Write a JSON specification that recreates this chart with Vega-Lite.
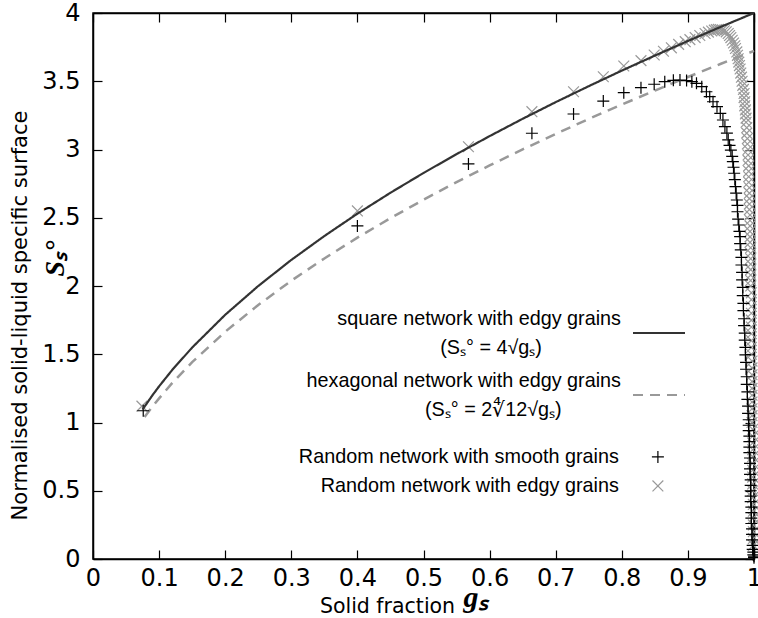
{
  "$schema": "https://vega.github.io/schema/vega-lite/v6.json",
  "width": 661,
  "height": 546,
  "autosize": {"type": "none"},
  "padding": {"left": 93, "top": 13, "right": 4, "bottom": 59},
  "background": "white",
  "datasets": {
    "lines": [
      {"s": "sq", "x": 0.075, "y": 1.095}, {"s": "sq", "x": 0.09, "y": 1.2}, {"s": "sq", "x": 0.1, "y": 1.265},
      {"s": "sq", "x": 0.12, "y": 1.386}, {"s": "sq", "x": 0.15, "y": 1.549}, {"s": "sq", "x": 0.2, "y": 1.789},
      {"s": "sq", "x": 0.25, "y": 2.0}, {"s": "sq", "x": 0.3, "y": 2.191}, {"s": "sq", "x": 0.35, "y": 2.366},
      {"s": "sq", "x": 0.4, "y": 2.53}, {"s": "sq", "x": 0.45, "y": 2.683}, {"s": "sq", "x": 0.5, "y": 2.828},
      {"s": "sq", "x": 0.55, "y": 2.966}, {"s": "sq", "x": 0.6, "y": 3.098}, {"s": "sq", "x": 0.65, "y": 3.225},
      {"s": "sq", "x": 0.7, "y": 3.347}, {"s": "sq", "x": 0.75, "y": 3.464}, {"s": "sq", "x": 0.8, "y": 3.578},
      {"s": "sq", "x": 0.85, "y": 3.688}, {"s": "sq", "x": 0.9, "y": 3.795}, {"s": "sq", "x": 0.95, "y": 3.899},
      {"s": "sq", "x": 1.0, "y": 4.0},
      {"s": "hex", "x": 0.078, "y": 1.04}, {"s": "hex", "x": 0.09, "y": 1.117}, {"s": "hex", "x": 0.1, "y": 1.177},
      {"s": "hex", "x": 0.12, "y": 1.29}, {"s": "hex", "x": 0.15, "y": 1.442}, {"s": "hex", "x": 0.2, "y": 1.665},
      {"s": "hex", "x": 0.25, "y": 1.861}, {"s": "hex", "x": 0.3, "y": 2.039}, {"s": "hex", "x": 0.35, "y": 2.202},
      {"s": "hex", "x": 0.4, "y": 2.354}, {"s": "hex", "x": 0.45, "y": 2.497}, {"s": "hex", "x": 0.5, "y": 2.632},
      {"s": "hex", "x": 0.55, "y": 2.761}, {"s": "hex", "x": 0.6, "y": 2.883}, {"s": "hex", "x": 0.65, "y": 3.001},
      {"s": "hex", "x": 0.7, "y": 3.114}, {"s": "hex", "x": 0.75, "y": 3.224}, {"s": "hex", "x": 0.8, "y": 3.329},
      {"s": "hex", "x": 0.85, "y": 3.432}, {"s": "hex", "x": 0.9, "y": 3.531}, {"s": "hex", "x": 0.95, "y": 3.628},
      {"s": "hex", "x": 1.0, "y": 3.722}
    ],
    "pts": [
      {"s": "sm", "x": 0.076, "y": 1.086}, {"s": "sm", "x": 0.4, "y": 2.44}, {"s": "sm", "x": 0.568, "y": 2.894},
      {"s": "sm", "x": 0.664, "y": 3.119}, {"s": "sm", "x": 0.727, "y": 3.26}, {"s": "sm", "x": 0.772, "y": 3.355},
      {"s": "sm", "x": 0.803, "y": 3.416}, {"s": "sm", "x": 0.829, "y": 3.453}, {"s": "sm", "x": 0.849, "y": 3.478},
      {"s": "sm", "x": 0.865, "y": 3.497}, {"s": "sm", "x": 0.878, "y": 3.507}, {"s": "sm", "x": 0.888, "y": 3.509},
      {"s": "sm", "x": 0.898, "y": 3.505}, {"s": "sm", "x": 0.906, "y": 3.497}, {"s": "sm", "x": 0.913, "y": 3.485},
      {"s": "sm", "x": 0.921, "y": 3.46}, {"s": "sm", "x": 0.928, "y": 3.423}, {"s": "sm", "x": 0.933, "y": 3.387},
      {"s": "sm", "x": 0.938, "y": 3.35}, {"s": "sm", "x": 0.944, "y": 3.314}, {"s": "sm", "x": 0.949, "y": 3.265},
      {"s": "sm", "x": 0.953, "y": 3.216}, {"s": "sm", "x": 0.956, "y": 3.167}, {"s": "sm", "x": 0.959, "y": 3.12},
      {"s": "sm", "x": 0.961, "y": 3.07}, {"s": "sm", "x": 0.963, "y": 3.03}, {"s": "sm", "x": 0.965, "y": 2.996},
      {"s": "sm", "x": 0.967, "y": 2.95}, {"s": "sm", "x": 0.968, "y": 2.911}, {"s": "sm", "x": 0.969, "y": 2.87},
      {"s": "sm", "x": 0.97, "y": 2.826}, {"s": "sm", "x": 0.971, "y": 2.78}, {"s": "sm", "x": 0.972, "y": 2.728},
      {"s": "sm", "x": 0.973, "y": 2.68}, {"s": "sm", "x": 0.974, "y": 2.63}, {"s": "sm", "x": 0.975, "y": 2.59},
      {"s": "sm", "x": 0.975, "y": 2.544}, {"s": "sm", "x": 0.976, "y": 2.49}, {"s": "sm", "x": 0.977, "y": 2.447},
      {"s": "sm", "x": 0.978, "y": 2.4}, {"s": "sm", "x": 0.979, "y": 2.361}, {"s": "sm", "x": 0.979, "y": 2.31},
      {"s": "sm", "x": 0.98, "y": 2.264}, {"s": "sm", "x": 0.981, "y": 2.21}, {"s": "sm", "x": 0.981, "y": 2.154},
      {"s": "sm", "x": 0.982, "y": 2.1}, {"s": "sm", "x": 0.982, "y": 2.045}, {"s": "sm", "x": 0.983, "y": 1.99},
      {"s": "sm", "x": 0.983, "y": 1.93}, {"s": "sm", "x": 0.984, "y": 1.873}, {"s": "sm", "x": 0.984, "y": 1.82},
      {"s": "sm", "x": 0.985, "y": 1.76}, {"s": "sm", "x": 0.985, "y": 1.71}, {"s": "sm", "x": 0.986, "y": 1.655},
      {"s": "sm", "x": 0.986, "y": 1.604}, {"s": "sm", "x": 0.987, "y": 1.55}, {"s": "sm", "x": 0.987, "y": 1.495},
      {"s": "sm", "x": 0.988, "y": 1.44}, {"s": "sm", "x": 0.988, "y": 1.39}, {"s": "sm", "x": 0.989, "y": 1.335},
      {"s": "sm", "x": 0.989, "y": 1.28}, {"s": "sm", "x": 0.99, "y": 1.225}, {"s": "sm", "x": 0.99, "y": 1.17},
      {"s": "sm", "x": 0.991, "y": 1.12}, {"s": "sm", "x": 0.991, "y": 1.067}, {"s": "sm", "x": 0.992, "y": 1.02},
      {"s": "sm", "x": 0.992, "y": 0.98}, {"s": "sm", "x": 0.992, "y": 0.94}, {"s": "sm", "x": 0.993, "y": 0.9},
      {"s": "sm", "x": 0.993, "y": 0.86}, {"s": "sm", "x": 0.993, "y": 0.82}, {"s": "sm", "x": 0.993, "y": 0.78},
      {"s": "sm", "x": 0.994, "y": 0.74}, {"s": "sm", "x": 0.994, "y": 0.7}, {"s": "sm", "x": 0.994, "y": 0.66},
      {"s": "sm", "x": 0.994, "y": 0.62}, {"s": "sm", "x": 0.995, "y": 0.58}, {"s": "sm", "x": 0.995, "y": 0.54},
      {"s": "sm", "x": 0.995, "y": 0.5}, {"s": "sm", "x": 0.995, "y": 0.46}, {"s": "sm", "x": 0.995, "y": 0.42},
      {"s": "sm", "x": 0.996, "y": 0.38}, {"s": "sm", "x": 0.996, "y": 0.34}, {"s": "sm", "x": 0.996, "y": 0.3},
      {"s": "sm", "x": 0.996, "y": 0.26}, {"s": "sm", "x": 0.997, "y": 0.22}, {"s": "sm", "x": 0.997, "y": 0.18},
      {"s": "sm", "x": 0.997, "y": 0.14}, {"s": "sm", "x": 0.998, "y": 0.1}, {"s": "sm", "x": 0.998, "y": 0.07},
      {"s": "sm", "x": 0.999, "y": 0.05}, {"s": "sm", "x": 0.999, "y": 0.03}, {"s": "sm", "x": 1.0, "y": 0.02},
      {"s": "sm", "x": 1.0, "y": 0.01},
      {"s": "ed", "x": 0.074, "y": 1.12}, {"s": "ed", "x": 0.4, "y": 2.55}, {"s": "ed", "x": 0.568, "y": 3.02},
      {"s": "ed", "x": 0.664, "y": 3.277}, {"s": "ed", "x": 0.727, "y": 3.423}, {"s": "ed", "x": 0.772, "y": 3.533},
      {"s": "ed", "x": 0.803, "y": 3.612}, {"s": "ed", "x": 0.829, "y": 3.651}, {"s": "ed", "x": 0.849, "y": 3.692},
      {"s": "ed", "x": 0.863, "y": 3.72}, {"s": "ed", "x": 0.875, "y": 3.745}, {"s": "ed", "x": 0.886, "y": 3.77},
      {"s": "ed", "x": 0.896, "y": 3.79}, {"s": "ed", "x": 0.903, "y": 3.805}, {"s": "ed", "x": 0.911, "y": 3.82},
      {"s": "ed", "x": 0.918, "y": 3.835}, {"s": "ed", "x": 0.926, "y": 3.85}, {"s": "ed", "x": 0.931, "y": 3.86},
      {"s": "ed", "x": 0.936, "y": 3.868}, {"s": "ed", "x": 0.94, "y": 3.874}, {"s": "ed", "x": 0.943, "y": 3.878},
      {"s": "ed", "x": 0.946, "y": 3.88}, {"s": "ed", "x": 0.949, "y": 3.879}, {"s": "ed", "x": 0.952, "y": 3.876},
      {"s": "ed", "x": 0.955, "y": 3.87}, {"s": "ed", "x": 0.958, "y": 3.862}, {"s": "ed", "x": 0.961, "y": 3.85},
      {"s": "ed", "x": 0.963, "y": 3.835}, {"s": "ed", "x": 0.965, "y": 3.82}, {"s": "ed", "x": 0.967, "y": 3.8},
      {"s": "ed", "x": 0.969, "y": 3.78}, {"s": "ed", "x": 0.971, "y": 3.76}, {"s": "ed", "x": 0.972, "y": 3.74},
      {"s": "ed", "x": 0.974, "y": 3.715}, {"s": "ed", "x": 0.975, "y": 3.69}, {"s": "ed", "x": 0.976, "y": 3.665},
      {"s": "ed", "x": 0.977, "y": 3.64}, {"s": "ed", "x": 0.978, "y": 3.615}, {"s": "ed", "x": 0.979, "y": 3.59},
      {"s": "ed", "x": 0.98, "y": 3.56}, {"s": "ed", "x": 0.981, "y": 3.53}, {"s": "ed", "x": 0.982, "y": 3.5},
      {"s": "ed", "x": 0.983, "y": 3.47}, {"s": "ed", "x": 0.984, "y": 3.44}, {"s": "ed", "x": 0.985, "y": 3.41},
      {"s": "ed", "x": 0.985, "y": 3.38}, {"s": "ed", "x": 0.986, "y": 3.35}, {"s": "ed", "x": 0.986, "y": 3.32},
      {"s": "ed", "x": 0.987, "y": 3.29}, {"s": "ed", "x": 0.987, "y": 3.26}, {"s": "ed", "x": 0.988, "y": 3.23},
      {"s": "ed", "x": 0.988, "y": 3.2}, {"s": "ed", "x": 0.989, "y": 3.16}, {"s": "ed", "x": 0.989, "y": 3.12},
      {"s": "ed", "x": 0.99, "y": 3.08}, {"s": "ed", "x": 0.99, "y": 3.04}, {"s": "ed", "x": 0.991, "y": 3.0},
      {"s": "ed", "x": 0.991, "y": 2.96}, {"s": "ed", "x": 0.991, "y": 2.92}, {"s": "ed", "x": 0.992, "y": 2.88},
      {"s": "ed", "x": 0.992, "y": 2.84}, {"s": "ed", "x": 0.992, "y": 2.8}, {"s": "ed", "x": 0.992, "y": 2.76},
      {"s": "ed", "x": 0.993, "y": 2.72}, {"s": "ed", "x": 0.993, "y": 2.68}, {"s": "ed", "x": 0.993, "y": 2.64},
      {"s": "ed", "x": 0.993, "y": 2.6}, {"s": "ed", "x": 0.993, "y": 2.56}, {"s": "ed", "x": 0.994, "y": 2.52},
      {"s": "ed", "x": 0.994, "y": 2.48}, {"s": "ed", "x": 0.994, "y": 2.44}, {"s": "ed", "x": 0.994, "y": 2.4},
      {"s": "ed", "x": 0.994, "y": 2.36}, {"s": "ed", "x": 0.994, "y": 2.32}, {"s": "ed", "x": 0.995, "y": 2.28},
      {"s": "ed", "x": 0.995, "y": 2.24}, {"s": "ed", "x": 0.995, "y": 2.2}, {"s": "ed", "x": 0.995, "y": 2.16},
      {"s": "ed", "x": 0.995, "y": 2.12}, {"s": "ed", "x": 0.995, "y": 2.08}, {"s": "ed", "x": 0.995, "y": 2.04},
      {"s": "ed", "x": 0.995, "y": 2.0}, {"s": "ed", "x": 0.996, "y": 1.95}, {"s": "ed", "x": 0.996, "y": 1.9},
      {"s": "ed", "x": 0.996, "y": 1.85}, {"s": "ed", "x": 0.996, "y": 1.8}, {"s": "ed", "x": 0.996, "y": 1.75},
      {"s": "ed", "x": 0.996, "y": 1.7}, {"s": "ed", "x": 0.996, "y": 1.65}, {"s": "ed", "x": 0.996, "y": 1.6},
      {"s": "ed", "x": 0.996, "y": 1.55}, {"s": "ed", "x": 0.996, "y": 1.5}, {"s": "ed", "x": 0.997, "y": 1.45},
      {"s": "ed", "x": 0.997, "y": 1.4}, {"s": "ed", "x": 0.997, "y": 1.35}, {"s": "ed", "x": 0.997, "y": 1.3},
      {"s": "ed", "x": 0.997, "y": 1.25}, {"s": "ed", "x": 0.997, "y": 1.2}, {"s": "ed", "x": 0.997, "y": 1.15},
      {"s": "ed", "x": 0.997, "y": 1.1}, {"s": "ed", "x": 0.997, "y": 1.05}, {"s": "ed", "x": 0.997, "y": 1.0},
      {"s": "ed", "x": 0.998, "y": 0.95}, {"s": "ed", "x": 0.998, "y": 0.9}, {"s": "ed", "x": 0.998, "y": 0.85},
      {"s": "ed", "x": 0.998, "y": 0.8}, {"s": "ed", "x": 0.998, "y": 0.75}, {"s": "ed", "x": 0.998, "y": 0.7},
      {"s": "ed", "x": 0.998, "y": 0.65}, {"s": "ed", "x": 0.998, "y": 0.6}, {"s": "ed", "x": 0.998, "y": 0.55},
      {"s": "ed", "x": 0.998, "y": 0.5}, {"s": "ed", "x": 0.998, "y": 0.45}, {"s": "ed", "x": 0.999, "y": 0.4},
      {"s": "ed", "x": 0.999, "y": 0.35}, {"s": "ed", "x": 0.999, "y": 0.3}, {"s": "ed", "x": 0.999, "y": 0.25},
      {"s": "ed", "x": 0.999, "y": 0.2}, {"s": "ed", "x": 0.999, "y": 0.15}, {"s": "ed", "x": 0.999, "y": 0.1}
    ]
  },
  "layer": [
    {
      "data": {"name": "pts"},
      "transform": [{"filter": "datum.s == 'ed'"}],
      "mark": {"type": "point", "filled": false, "size": 144, "strokeWidth": 1.2, "opacity": 1},
      "encoding": {
        "x": {"field": "x", "type": "quantitative", "scale": {"domain": [0, 1], "nice": false, "zero": false},
          "axis": {"orient": "bottom", "values": [0, 0.1, 0.2, 0.3, 0.4, 0.5, 0.6, 0.7, 0.8, 0.9, 1], "format": "~g",
            "tickSize": -9, "labelPadding": 16, "labelFlush": false, "labelOverlap": false,
            "title": "Solid fraction", "titleFont": "DejaVu Sans", "titleFontSize": 20.5,
            "titleX": 294, "titleY": 53, "titleBaseline": "alphabetic", "titleAlign": "center"}},
        "y": {"field": "y", "type": "quantitative", "scale": {"domain": [0, 4], "nice": false},
          "axis": {"orient": "left", "values": [0, 0.5, 1, 1.5, 2, 2.5, 3, 3.5, 4], "format": "~g",
            "tickSize": -9, "labelPadding": 22, "labelFlush": false, "labelOverlap": false,
            "title": "Normalised solid-liquid specific surface", "titleFont": "DejaVu Sans", "titleFontSize": 21,
            "titleAngle": 270, "titleX": -73, "titleY": 302, "titleAlign": "center", "titleBaseline": "middle"}},
        "color": {"field": "s", "type": "nominal",
          "scale": {"domain": ["sm", "ed"], "range": ["#000000", "#999999"]},
          "legend": {"orient": "none", "legendX": 555, "legendY": 434, "title": null, "symbolSize": 144,
            "symbolStrokeWidth": 1.2, "labelAlign": "right", "labelOffset": -49, "rowPadding": 8,
            "labelExpr": "datum.value == 'sm' ? 'Random network with smooth grains' : 'Random network with edgy grains'"}},
        "shape": {"field": "s", "type": "nominal",
          "scale": {"domain": ["sm", "ed"], "range": ["M-1,0H1M0,-1V1", "M-0.9,-0.9L0.9,0.9M-0.9,0.9L0.9,-0.9"]},
          "legend": {"orient": "none", "legendX": 555, "legendY": 434, "title": null, "symbolSize": 144,
            "symbolStrokeWidth": 1.2, "labelAlign": "right", "labelOffset": -49, "rowPadding": 8,
            "labelExpr": "datum.value == 'sm' ? 'Random network with smooth grains' : 'Random network with edgy grains'"}}
      }
    },
    {
      "data": {"name": "lines"},
      "transform": [{"filter": "datum.s == 'hex'"}],
      "mark": {"type": "line", "strokeWidth": 2.5},
      "encoding": {
        "x": {"field": "x", "type": "quantitative",
          "axis": {"orient": "top", "values": [0, 0.1, 0.2, 0.3, 0.4, 0.5, 0.6, 0.7, 0.8, 0.9, 1], "tickSize": -9,
            "labels": false, "title": null}},
        "y": {"field": "y", "type": "quantitative",
          "axis": {"orient": "right", "values": [0, 0.5, 1, 1.5, 2, 2.5, 3, 3.5, 4], "tickSize": -9,
            "labels": false, "title": null}},
        "stroke": {"field": "s", "type": "nominal",
          "scale": {"domain": ["sq", "hex"], "range": ["#333333", "#999999"]},
          "legend": {"orient": "none", "legendX": 539, "legendY": 293, "title": null, "symbolSize": 2704,
            "symbolStrokeWidth": 2, "labelAlign": "right", "labelOffset": -65, "rowPadding": 10,
            "encode": {"labels": {"update": {"lineHeight": {"value": 29}, "dy": {"value": -14.5}}}},
            "labelExpr": "datum.value == 'sq' ? ['square network with edgy grains', '(Sₛ° = 4√gₛ)\u2003\u2003\u2003\u2003\u200b'] : ['hexagonal network with edgy grains', '(Sₛ° = 2∜12√gₛ)\u2003\u2003\u2003\u200b']"}},
        "strokeDash": {"field": "s", "type": "nominal",
          "scale": {"domain": ["sq", "hex"], "range": [[1, 0], [10, 7]]},
          "legend": {"orient": "none", "legendX": 539, "legendY": 293, "title": null, "symbolSize": 2704,
            "symbolStrokeWidth": 2, "labelAlign": "right", "labelOffset": -65, "rowPadding": 10,
            "encode": {"labels": {"update": {"lineHeight": {"value": 29}, "dy": {"value": -14.5}}}},
            "labelExpr": "datum.value == 'sq' ? ['square network with edgy grains', '(Sₛ° = 4√gₛ)\u2003\u2003\u2003\u2003\u200b'] : ['hexagonal network with edgy grains', '(Sₛ° = 2∜12√gₛ)\u2003\u2003\u2003\u200b']"}}
      }
    },
    {
      "data": {"name": "pts"},
      "transform": [{"filter": "datum.s == 'sm'"}],
      "mark": {"type": "point", "filled": false, "size": 144, "strokeWidth": 1.2, "opacity": 1},
      "encoding": {
        "x": {"field": "x", "type": "quantitative",
          "axis": {"orient": "bottom", "ticks": false, "labels": false, "domain": false, "title": "gₛ",
            "titleFont": "Liberation Serif", "titleFontStyle": "italic", "titleFontWeight": "bold", "titleFontSize": 30,
            "titleX": 382, "titleY": 47, "titleBaseline": "alphabetic", "titleAlign": "center"}},
        "y": {"field": "y", "type": "quantitative",
          "axis": {"orient": "left", "ticks": false, "labels": false, "domain": false, "title": "Sₛ°",
            "titleFont": "Liberation Serif", "titleFontStyle": "italic", "titleFontWeight": "bold", "titleFontSize": 28,
            "titleAngle": 270, "titleX": -38, "titleY": 245, "titleAlign": "center", "titleBaseline": "middle"}},
        "color": {"field": "s", "type": "nominal"},
        "shape": {"field": "s", "type": "nominal"}
      }
    },
    {
      "data": {"name": "lines"},
      "transform": [{"filter": "datum.s == 'sq'"}],
      "mark": {"type": "line", "strokeWidth": 2.2},
      "encoding": {
        "x": {"field": "x", "type": "quantitative", "axis": null},
        "y": {"field": "y", "type": "quantitative", "axis": null},
        "stroke": {"field": "s", "type": "nominal"},
        "strokeDash": {"field": "s", "type": "nominal"}
      }
    }
  ],
  "resolve": {"axis": {"x": "independent", "y": "independent"}},
  "config": {
    "view": {"stroke": "black", "strokeWidth": 1.5},
    "axis": {"labelFont": "DejaVu Sans", "labelFontSize": 24, "labelColor": "black", "domainColor": "black",
      "domainWidth": 1.5, "tickColor": "black", "tickWidth": 1.2, "grid": false, "titleColor": "black",
      "titleFontWeight": "normal"},
    "legend": {"labelFont": "Liberation Sans", "labelFontSize": 19.8, "labelColor": "black", "labelLimit": 600, "padding": 0}
  }
}
